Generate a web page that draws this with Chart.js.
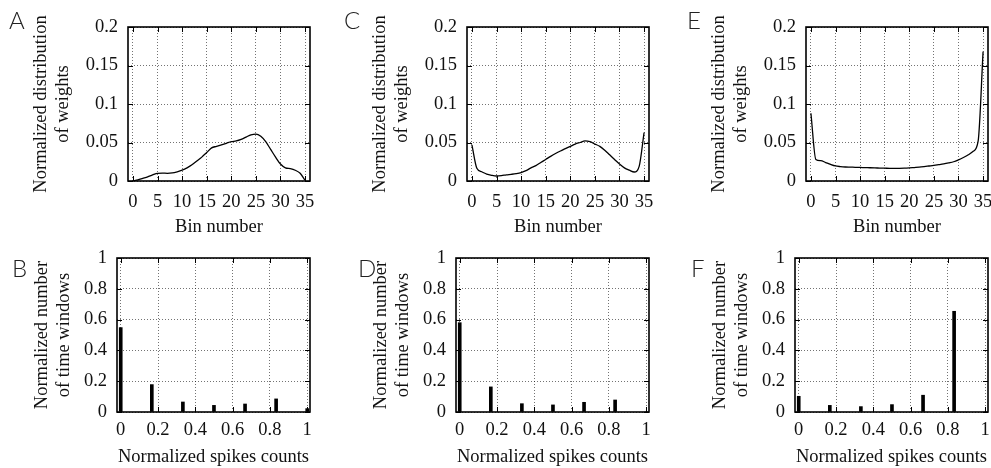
<!DOCTYPE html>
<html>
<head>
<meta charset="utf-8">
<script src="https://cdn.jsdelivr.net/npm/chart.js@4.4.0/dist/chart.umd.min.js"></script>
<style>
  body { margin: 0; background: #fff; }
  #wrap { position: relative; width: 991px; height: 468px; overflow: hidden; background: #fff; }
  canvas { position: absolute; }
  .letter { position: absolute; font-family: 'Lato', 'DejaVu Sans', sans-serif; font-weight: 300; font-size: 24px; line-height: 24px; color: #222; }
</style>
</head>
<body>
<div id="wrap">
  <canvas id="A" width="330" height="238" style="left:0px;top:0px"></canvas>
  <canvas id="C" width="330" height="238" style="left:339px;top:0px"></canvas>
  <canvas id="E" width="330" height="238" style="left:678px;top:0px"></canvas>
  <canvas id="B" width="330" height="234" style="left:0px;top:234px"></canvas>
  <canvas id="D" width="330" height="234" style="left:339px;top:234px"></canvas>
  <canvas id="F" width="330" height="234" style="left:678px;top:234px"></canvas>
  <div class="letter" style="left:9px;top:8px">A</div>
  <div class="letter" style="left:344px;top:8px">C</div>
  <div class="letter" style="left:687px;top:8px">E</div>
  <div class="letter" style="left:12px;top:256px">B</div>
  <div class="letter" style="left:358px;top:256px">D</div>
  <div class="letter" style="left:691px;top:256px">F</div>
</div>
<script>
// top row: weight distributions over 36 bins
var binNumbers = [0,1,2,3,4,5,6,7,8,9,10,11,12,13,14,15,16,17,18,19,20,21,22,23,24,25,26,27,28,29,30,31,32,33,34,35]
var weightsA = [0,0.0015,0.0035,0.0055,0.008,0.01,0.0102,0.01,0.0105,0.012,0.014,0.017,0.021,0.026,0.031,0.037,0.043,0.045,0.047,0.049,0.051,0.052,0.054,0.057,0.06,0.061,0.058,0.051,0.041,0.031,0.022,0.017,0.016,0.014,0.01,0.001]
var weightsC = [0.047,0.0165,0.012,0.009,0.0074,0.0065,0.007,0.008,0.0087,0.0096,0.011,0.0135,0.017,0.02,0.024,0.028,0.032,0.0357,0.039,0.042,0.045,0.048,0.05,0.052,0.051,0.048,0.045,0.04,0.034,0.028,0.022,0.017,0.014,0.0117,0.019,0.063]
var weightsE = [0.088,0.028,0.0265,0.024,0.0215,0.0195,0.0187,0.0182,0.018,0.0178,0.0176,0.0174,0.0172,0.017,0.0168,0.0166,0.0164,0.0163,0.0164,0.0166,0.017,0.0175,0.018,0.0187,0.0195,0.0203,0.0212,0.0222,0.0235,0.025,0.0275,0.0305,0.034,0.0385,0.052,0.168]
var binTicks = [0,5,10,15,20,25,30,35]
var weightTicks = [0,0.05,0.1,0.15,0.2]

// bottom row: spike count histograms
var spikeCounts = [0,0.1667,0.3333,0.5,0.6667,0.8333,1]
var windowsB = [0.548,0.178,0.065,0.043,0.052,0.085,0.022]
var windowsD = [0.58,0.163,0.054,0.046,0.063,0.078,0]
var windowsF = [0.102,0.043,0.035,0.048,0.109,0.654,0]
var spikeTicks = [0,0.2,0.4,0.6,0.8,1]
var windowTicks = [0,0.2,0.4,0.6,0.8,1]

var serif = '"Liberation Serif", "DejaVu Serif", serif'
var tickFont = {family: serif, size: 18.5, lineHeight: 1.2}
var titleFont = {family: serif, size: 18.5, lineHeight: 1.15}

// gnuplot style box with inward ticks
const framePlugin = {
  id: 'frame',
  afterDraw(chart) {
    const {ctx, chartArea: a, scales} = chart
    ctx.save()
    ctx.strokeStyle = '#000'
    ctx.lineWidth = 1
    ctx.beginPath()
    scales.x.ticks.forEach(t => {
      const px = Math.round(scales.x.getPixelForValue(t.value)) + 0.5
      ctx.moveTo(px, a.bottom); ctx.lineTo(px, a.bottom - 5)
      ctx.moveTo(px, a.top); ctx.lineTo(px, a.top + 5)
    })
    scales.y.ticks.forEach(t => {
      const py = Math.round(scales.y.getPixelForValue(t.value)) + 0.5
      ctx.moveTo(a.left, py); ctx.lineTo(a.left + 5, py)
      ctx.moveTo(a.right, py); ctx.lineTo(a.right - 5, py)
    })
    ctx.stroke()
    ctx.lineWidth = 1.6
    ctx.strokeRect(a.left, a.top, a.width, a.height)
    ctx.restore()
  }
}

function axis(min, max, tickVals, title, pad, size, horizontal) {
  return {
    type: 'linear',
    min: min,
    max: max,
    offset: false,
    afterBuildTicks: s => { s.ticks = tickVals.map(v => ({value: v})) },
    afterFit: s => { if (horizontal) s.height = size; else s.width = size },
    ticks: {font: tickFont, color: '#111', padding: pad, maxRotation: 0, autoSkip: false,
      callback: v => String(v)},
    grid: {color: 'rgba(0,0,0,0.55)', lineWidth: 1, drawTicks: false, offset: false},
    border: {display: false, dash: [1, 2]},
    title: {display: true, text: title, font: titleFont, color: '#111', padding: 0}
  }
}

function weightChart(id, values) {
  new Chart(document.getElementById(id), {
    type: 'line',
    data: {
      datasets: [{
        data: binNumbers.map((b, i) => ({x: b, y: values[i]})),
        borderColor: '#000',
        borderWidth: 1.3,
        pointRadius: 0,
        cubicInterpolationMode: 'monotone',
        fill: false
      }]
    },
    options: {
      responsive: false,
      animation: false,
      layout: {padding: {left: 31, top: 27, right: 20, bottom: 0}},
      plugins: {legend: {display: false}, tooltip: {enabled: false}},
      scales: {
        x: axis(-1, 36, binTicks, 'Bin number', 10, 57, true),
        y: axis(0, 0.2, weightTicks, ['Normalized distribution', 'of weights'], 10, 97, false)
      }
    },
    plugins: [framePlugin]
  })
}

function spikeChart(id, values) {
  new Chart(document.getElementById(id), {
    type: 'bar',
    data: {
      datasets: [{
        data: spikeCounts.map((c, i) => ({x: c, y: values[i]})),
        backgroundColor: '#000',
        barThickness: 3
      }]
    },
    options: {
      responsive: false,
      animation: false,
      layout: {padding: {left: 32, top: 24, right: 20, bottom: 0}},
      plugins: {legend: {display: false}, tooltip: {enabled: false}},
      scales: {
        x: axis(-0.02, 1.015, spikeTicks, 'Normalized spikes counts', 7, 56, true),
        y: axis(0, 1, windowTicks, ['Normalized number', 'of time windows'], 10, 85, false)
      }
    },
    plugins: [framePlugin]
  })
}

weightChart('A', weightsA)
weightChart('C', weightsC)
weightChart('E', weightsE)
spikeChart('B', windowsB)
spikeChart('D', windowsD)
spikeChart('F', windowsF)
</script>
</body>
</html>
